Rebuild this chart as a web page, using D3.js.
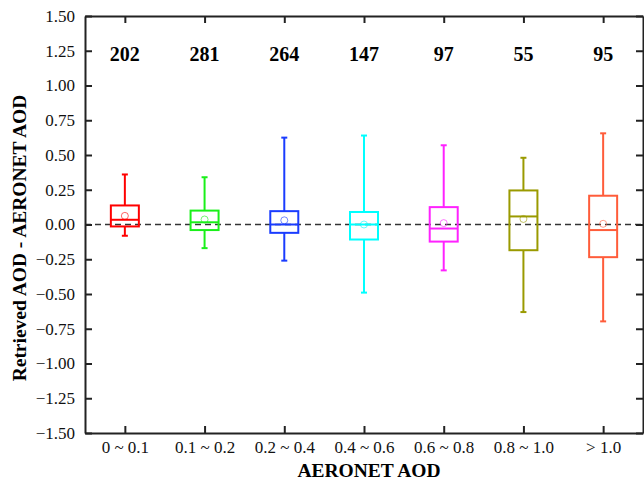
<!DOCTYPE html>
<html>
<head>
<meta charset="utf-8">
<script src="https://cdn.jsdelivr.net/npm/d3@7"></script>
<style>
  body { margin: 0; background: #fff; }
  text { font-family: "Liberation Serif", "Times New Roman", serif; }
</style>
</head>
<body>
<script>
// categories and box statistics
const categories = ["0 ~ 0.1", "0.1 ~ 0.2", "0.2 ~ 0.4", "0.4 ~ 0.6", "0.6 ~ 0.8", "0.8 ~ 1.0", "> 1.0"];
const counts = [202, 281, 264, 147, 97, 55, 95];
const whiskerHigh = [0.36, 0.34, 0.625, 0.64, 0.57, 0.48, 0.656];
const boxHigh = [0.137, 0.10, 0.096, 0.09, 0.125, 0.245, 0.207];
const medians = [0.034, 0.016, 0.0, 0.0, -0.029, 0.058, -0.04];
const boxLow = [-0.014, -0.04, -0.06, -0.108, -0.123, -0.185, -0.235];
const whiskerLow = [-0.081, -0.17, -0.26, -0.49, -0.33, -0.63, -0.697];
const means = [0.062, 0.036, 0.03, 0.0, 0.01, 0.04, 0.005];
const colors = ["#ff0000", "#19f019", "#1a3cff", "#00ffff", "#ff22ff", "#9a9a00", "#ff5c3a"];
const yTicks = [1.5, 1.25, 1.0, 0.75, 0.5, 0.25, 0, -0.25, -0.5, -0.75, -1.0, -1.25, -1.5];

const width = 644, height = 481;
const margin = {left: 85, right: 1, top: 16, bottom: 48};

const svg = d3.select("body").append("svg")
    .attr("width", width)
    .attr("height", height);

const x = d3.scaleLinear().domain([0.5, 7.5]).range([margin.left, width - margin.right]);
const y = d3.scaleLinear().domain([-1.5, 1.5]).range([height - margin.bottom, margin.top]);

const boxes = categories.map((c, i) => ({
  name: c, idx: i + 1, count: counts[i],
  wh: whiskerHigh[i], q3: boxHigh[i], med: medians[i], q1: boxLow[i], wl: whiskerLow[i],
  mean: means[i], color: colors[i]
}));

// zero reference line
svg.append("line")
    .attr("x1", x(0.5)).attr("x2", x(7.5))
    .attr("y1", y(0)).attr("y2", y(0))
    .attr("stroke", "#333").attr("stroke-width", 1.4)
    .attr("stroke-dasharray", "6,4");

// left axis
svg.append("g")
    .attr("transform", `translate(${margin.left},0)`)
    .call(d3.axisLeft(y).tickValues(yTicks).tickSizeInner(-7).tickSizeOuter(0)
      .tickPadding(10).tickFormat(d3.format(".2f")))
    .call(g => g.selectAll("text").attr("font-size", 17).attr("fill", "#111")
      .attr("font-family", "Liberation Serif, serif"))
    .call(g => g.select(".domain").attr("stroke-width", 2).attr("stroke", "#222"))
    .call(g => g.selectAll(".tick line").attr("stroke-width", 2).attr("stroke", "#222"));

// right axis, ticks only
svg.append("g")
    .attr("transform", `translate(${width - margin.right},0)`)
    .call(d3.axisRight(y).tickValues(yTicks).tickSizeInner(-7).tickSizeOuter(0).tickFormat(""))
    .call(g => g.select(".domain").attr("stroke-width", 2).attr("stroke", "#222"))
    .call(g => g.selectAll(".tick line").attr("stroke-width", 2).attr("stroke", "#222"));

// bottom axis
svg.append("g")
    .attr("transform", `translate(0,${height - margin.bottom})`)
    .call(d3.axisBottom(x).tickValues(boxes.map(d => d.idx)).tickSizeInner(-7).tickSizeOuter(0)
      .tickPadding(8).tickFormat((d, i) => categories[i]))
    .call(g => g.selectAll("text").attr("font-size", 17).attr("fill", "#111")
      .attr("font-family", "Liberation Serif, serif"))
    .call(g => g.select(".domain").attr("stroke-width", 2).attr("stroke", "#222"))
    .call(g => g.selectAll(".tick line").attr("stroke-width", 2).attr("stroke", "#222"));

// top axis, ticks only
svg.append("g")
    .attr("transform", `translate(0,${margin.top})`)
    .call(d3.axisTop(x).tickValues(boxes.map(d => d.idx)).tickSizeInner(-7).tickSizeOuter(0).tickFormat(""))
    .call(g => g.select(".domain").attr("stroke-width", 2).attr("stroke", "#222"))
    .call(g => g.selectAll(".tick line").attr("stroke-width", 2).attr("stroke", "#222"));

const boxW = 28, capW = 6;

const node = svg.selectAll(".box")
    .data(boxes)
  .enter().append("g")
    .attr("class", "box")
    .attr("stroke", d => d.color)
    .attr("fill", "none")
    .attr("stroke-width", 2);

// whiskers
node.append("line")
    .attr("x1", d => x(d.idx)).attr("x2", d => x(d.idx))
    .attr("y1", d => y(d.wh)).attr("y2", d => y(d.q3));
node.append("line")
    .attr("x1", d => x(d.idx)).attr("x2", d => x(d.idx))
    .attr("y1", d => y(d.q1)).attr("y2", d => y(d.wl));
// caps
node.append("line")
    .attr("x1", d => x(d.idx) - capW / 2).attr("x2", d => x(d.idx) + capW / 2)
    .attr("y1", d => y(d.wh)).attr("y2", d => y(d.wh));
node.append("line")
    .attr("x1", d => x(d.idx) - capW / 2).attr("x2", d => x(d.idx) + capW / 2)
    .attr("y1", d => y(d.wl)).attr("y2", d => y(d.wl));
// box
node.append("rect")
    .attr("x", d => x(d.idx) - boxW / 2)
    .attr("width", boxW)
    .attr("y", d => y(d.q3))
    .attr("height", d => y(d.q1) - y(d.q3));
// median
node.append("line")
    .attr("x1", d => x(d.idx) - boxW / 2).attr("x2", d => x(d.idx) + boxW / 2)
    .attr("y1", d => y(d.med)).attr("y2", d => y(d.med));
// mean
node.append("circle")
    .attr("cx", d => x(d.idx))
    .attr("cy", d => y(d.mean))
    .attr("r", 3.5)
    .attr("stroke-width", 1)
    .attr("stroke-opacity", 0.6);

// sample counts
svg.selectAll(".count")
    .data(boxes)
  .enter().append("text")
    .attr("class", "count")
    .attr("x", d => x(d.idx))
    .attr("y", 61)
    .attr("text-anchor", "middle")
    .attr("font-size", 20)
    .attr("font-weight", "bold")
    .text(d => d.count);

// axis titles
svg.append("text")
    .attr("x", 369)
    .attr("y", 477)
    .attr("text-anchor", "middle")
    .attr("font-size", 19.5)
    .attr("font-weight", "bold")
    .text("AERONET AOD");

svg.append("text")
    .attr("transform", "translate(26,238) rotate(-90)")
    .attr("text-anchor", "middle")
    .attr("font-size", 19.5)
    .attr("font-weight", "bold")
    .text("Retrieved AOD - AERONET AOD");
</script>
</body>
</html>
